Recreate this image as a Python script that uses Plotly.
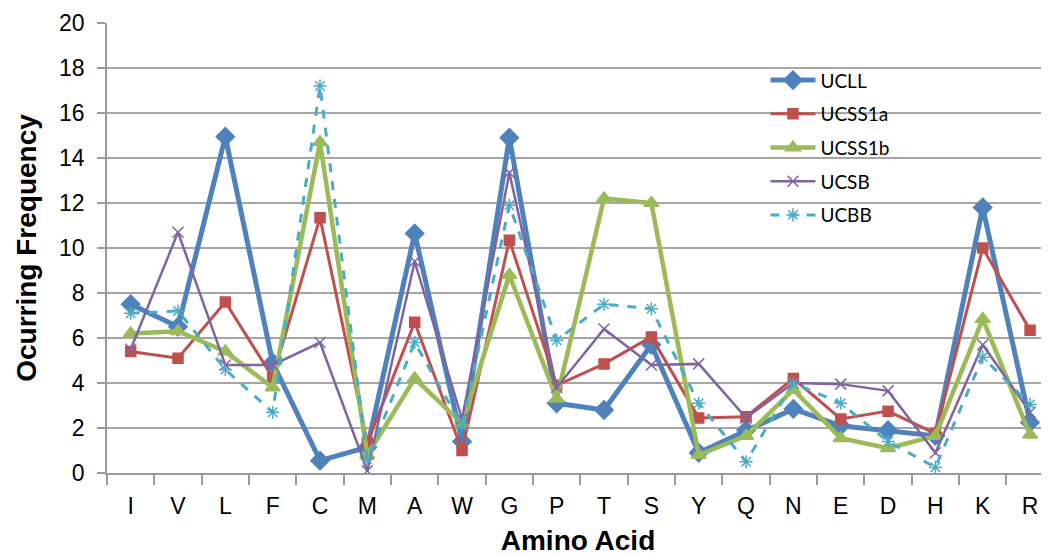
import plotly.graph_objects as go

amino_acids = ["I", "V", "L", "F", "C", "M", "A", "W", "G", "P",
               "T", "S", "Y", "Q", "N", "E", "D", "H", "K", "R"]

ucll    = [7.5, 6.5, 14.95, 4.9, 0.55, 1.15, 10.65, 1.4, 14.9, 3.1,
           2.8, 5.7, 0.9, 1.9, 2.85, 2.1, 1.9, 1.65, 11.8, 2.25]
ucss1a  = [5.4, 5.1, 7.6, 4.25, 11.35, 1.35, 6.7, 1.0, 10.35, 3.9,
           4.85, 6.05, 2.45, 2.5, 4.2, 2.4, 2.75, 1.75, 10.0, 6.35]
ucss1b  = [6.2, 6.3, 5.4, 3.8, 14.7, 0.8, 4.2, 2.2, 8.8, 3.3,
           12.2, 12.0, 0.8, 1.65, 3.7, 1.55, 1.1, 1.65, 6.85, 1.7]
ucsb    = [5.5, 10.7, 4.8, 4.8, 5.8, 0.1, 9.4, 2.4, 13.35, 3.8,
           6.4, 4.8, 4.85, 2.45, 4.0, 3.95, 3.65, 0.9, 5.7, 2.7]
ucbb    = [7.1, 7.2, 4.6, 2.7, 17.2, 0.6, 5.8, 2.1, 11.9, 5.9,
           7.5, 7.3, 3.1, 0.5, 4.0, 3.1, 1.4, 0.25, 5.15, 3.05]

series_names = ["UCLL", "UCSS1a", "UCSS1b", "UCSB", "UCBB"]
y_ticks = [0, 2, 4, 6, 8, 10, 12, 14, 16, 18, 20]

styles = [
    dict(color="#4F81BD", width=5, dash="solid", symbol="diamond", size=14),
    dict(color="#C0504D", width=3, dash="solid", symbol="square", size=10),
    dict(color="#9BBB59", width=4.5, dash="solid", symbol="triangle-up", size=13),
    dict(color="#8064A2", width=2.5, dash="solid", symbol="x-thin-open", size=11),
    dict(color="#4BACC6", width=3, dash="dash", symbol="asterisk-open", size=11),
]

fig = go.Figure()
for name, vals, st in zip(series_names, [ucll, ucss1a, ucss1b, ucsb, ucbb], styles):
    fig.add_trace(go.Scatter(
        x=amino_acids, y=vals, name=name, mode="lines+markers",
        legendgroup=name,
        line=dict(color=st["color"], width=st["width"], dash=st["dash"]),
        marker=dict(symbol=st["symbol"], size=st["size"], color=st["color"],
                    line=dict(color=st["color"], width=1.5)),
    ))

fig.update_layout(
    width=1041, height=548,
    margin=dict(l=99, r=0, t=15, b=83),
    paper_bgcolor="white", plot_bgcolor="white",
    font=dict(family="Liberation Sans, Arial", color="#000000"),
    showlegend=True,
    legend=dict(
        x=0.699, y=0.915, xanchor="left", yanchor="top",
        bgcolor="rgba(0,0,0,0)",
        font=dict(family="Lato, Open Sans", size=19, color="#000000"),
        tracegroupgap=6, itemwidth=45,
    ),
    xaxis=dict(
        type="category",
        categoryorder="array", categoryarray=amino_acids,
        range=[-0.5, 19.4],
        showgrid=False,
        showline=True, linecolor="#9a9a9a", linewidth=1.5,
        ticks="outside", tickson="boundaries", ticklen=10,
        tickcolor="#9a9a9a", tickwidth=1.5,
        tickfont=dict(size=23, family="Liberation Sans, Arial"),
        ticklabelstandoff=12,
        title=dict(text="<b>Amino Acid</b>",
                   font=dict(size=28, family="Liberation Sans, Arial"),
                   standoff=12),
        zeroline=False,
    ),
    yaxis=dict(
        range=[0, 20], tickvals=y_ticks,
        showgrid=True, gridcolor="#a6a6a6", gridwidth=1.5,
        showline=True, linecolor="#9a9a9a", linewidth=1.5,
        ticks="outside", ticklen=8, tickcolor="#9a9a9a", tickwidth=1.5,
        tickfont=dict(size=23, family="Liberation Sans, Arial"),
        ticklabelstandoff=8,
        title=dict(text="<b>Ocurring Frequency</b>",
                   font=dict(size=28, family="Liberation Sans, Arial"),
                   standoff=14),
        zeroline=False,
    ),
)

fig.write_html("out.html")
